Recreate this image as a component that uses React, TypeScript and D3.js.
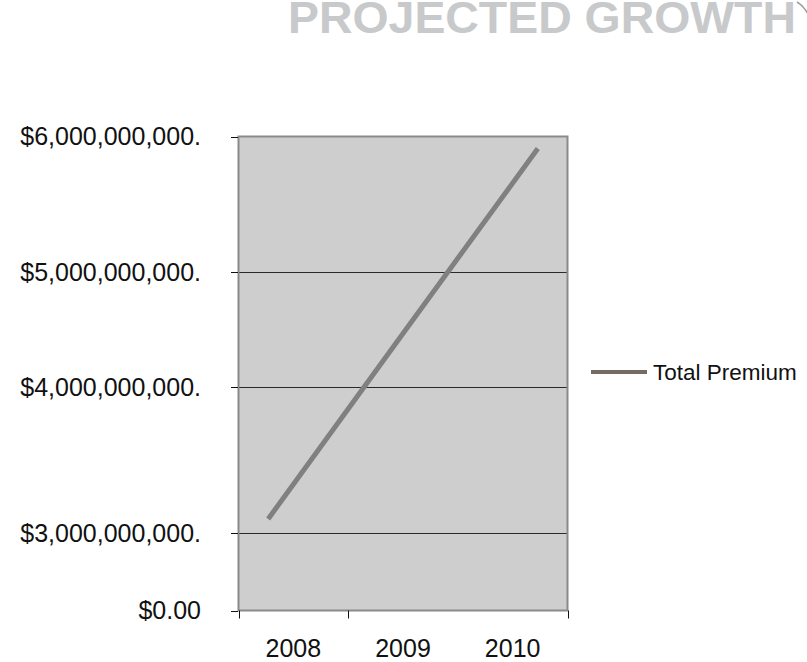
import React from "react";
import * as d3 from "d3";

const years = ["2008", "2009", "2010"];
const totalPremium = [3.096e9, 4.465e9, 5.912e9];
const yTickValues = [0, 3e9, 4e9, 5e9, 6e9];
const yTickLabels = ["$0.00", "$3,000,000,000.", "$4,000,000,000.", "$5,000,000,000.", "$6,000,000,000."];
const gridValues = [3e9, 4e9, 5e9];
const seriesName = "Total Premium";
const title = "PROJECTED GROWTH";

export default function App() {
  const W = 807, H = 662;
  const left = 238.5, right = 567.5, top = 136.5, bottom = 610.5;
  // piecewise (broken) value axis as in the original
  const y = d3.scaleLinear().domain(yTickValues).range([bottom, 533, 387, 272, top]);
  const xBand = d3.scaleBand().domain(years).range([left, right]);
  const xPoint = d3.scalePoint().domain(years).range([left, right]).padding(0.22);
  const line = d3.line<number>()
    .x((_, i) => xPoint(years[i]) as number)
    .y((d) => y(d));
  const xTicks = [xBand(years[0]) as number, xBand(years[1]) as number, right];
  const font = "'Liberation Sans', Arial, sans-serif";
  return (
    <svg width={W} height={H} style={{ position: "absolute", left: 0, top: 0 }}>
      <text x={288} y={33} fontFamily={font} fontWeight="bold" fontSize={44} fill="#c8c9cb"
        textLength={508} lengthAdjust="spacingAndGlyphs">{title}</text>
      <path d="M797,2 Q804,6 808,14" fill="none" stroke="#9a9a9a" strokeWidth={1.5} />
      <rect x={left} y={top} width={right - left} height={bottom - top} fill="#cecece" />
      {gridValues.map((v) => (
        <line key={v} x1={left} x2={right} y1={Math.round(y(v)) + 0.5} y2={Math.round(y(v)) + 0.5} stroke="#2a2a2a" strokeWidth={1.2} />
      ))}
      <rect x={left} y={top} width={right - left} height={bottom - top} fill="none" stroke="#8a8a8a" strokeWidth={2} />
      {yTickValues.map((v, i) => (
        <g key={v}>
          <line x1={231} x2={238} y1={Math.round(y(v)) + 0.5} y2={Math.round(y(v)) + 0.5} stroke="#111" strokeWidth={1} />
          <text x={201} y={y(v)} dy="0.35em" textAnchor="end" fontFamily={font} fontSize={25} fill="#111">{yTickLabels[i]}</text>
        </g>
      ))}
      {xTicks.map((t, i) => (
        <line key={i} x1={Math.round(t) + 0.5} x2={Math.round(t) + 0.5} y1={bottom} y2={bottom + 8} stroke="#111" strokeWidth={1} />
      ))}
      {years.map((yr) => (
        <text key={yr} x={(xBand(yr) as number) + xBand.bandwidth() / 2} y={648} dy="0.35em" textAnchor="middle"
          fontFamily={font} fontSize={25} fill="#111">{yr}</text>
      ))}
      <path d={line(totalPremium) || ""} fill="none" stroke="#808080" strokeWidth={5} />
      <line x1={591} x2={647} y1={372} y2={372} stroke="#756b60" strokeWidth={4} />
      <text x={653} y={372} dy="0.35em" fontFamily={font} fontSize={22.5} fill="#111">{seriesName}</text>
    </svg>
  );
}
